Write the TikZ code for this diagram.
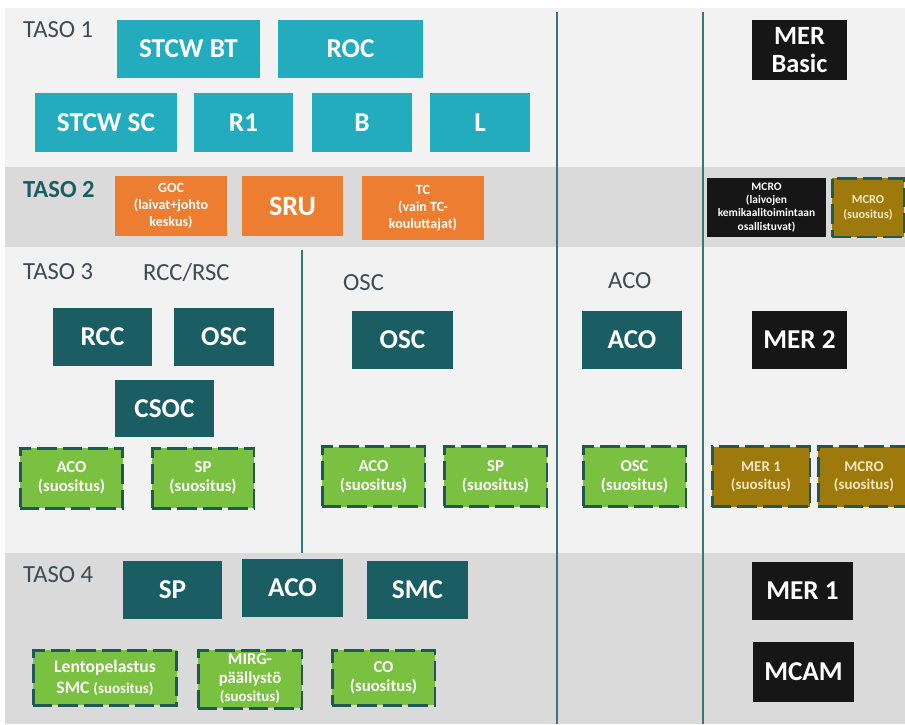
\documentclass[tikz,border=0pt]{standalone}
\usepackage{fontspec}
\setmainfont{Carlito}
\definecolor{tasocyan}{RGB}{35,172,190}
\definecolor{tasoorange}{RGB}{237,125,49}
\definecolor{tasoteal}{RGB}{26,93,99}
\definecolor{tasoblack}{RGB}{22,22,22}
\definecolor{tasogreen}{RGB}{122,193,66}
\definecolor{tasobrown}{RGB}{158,122,12}
\definecolor{tasodash}{RGB}{32,88,84}
\definecolor{tasoline}{RGB}{55,118,128}
\definecolor{tasolight}{RGB}{242,242,242}
\definecolor{tasomid}{RGB}{218,218,218}
\definecolor{tasogray}{RGB}{62,76,82}
\definecolor{tasocream}{RGB}{245,232,190}

\begin{document}
\begin{tikzpicture}[x = 0.02cm, y = -0.02cm,
  box/.style = {rectangle, inner sep = 1pt, align = center, text = white,
    font = \bfseries\fontsize{15.5}{17}\selectfont, minimum height = 1.16cm},
  cyanbox/.style = {box, fill = tasocyan},
  orangebox/.style = {box, fill = tasoorange, font = \bfseries\fontsize{8}{9.5}\selectfont},
  tealbox/.style = {box, fill = tasoteal},
  blackbox/.style = {box, fill = tasoblack},
  tipbox/.style = {box, fill = tasogreen, draw = tasodash, line width = 1.7pt,
    dash pattern = on 11pt off 3.5pt, font = \bfseries\fontsize{9.5}{11}\selectfont,
    minimum height = 1.2cm},
  brownbox/.style = {tipbox, fill = tasobrown, text = tasocream},
  level/.style = {anchor = west, text = tasogray, font = \fontsize{14}{15}\selectfont},
  sepline/.style = {draw = tasoline, line width = 1.2pt}]
\useasboundingbox (0, 0) rectangle (905, 724);
\fill[white] (0, 0) rectangle (905, 724);
\fill[tasolight] (5, 8) rectangle (905, 167);
\fill[tasomid] (5, 167) rectangle (905, 247);
\fill[tasolight] (5, 247) rectangle (905, 553);
\fill[tasomid] (5, 553) rectangle (905, 724);

\node[level] (taso1) at (17, 30) {TASO 1};
\node[level, text = tasoteal, font = \bfseries\fontsize{14}{15}\selectfont] (taso2) at (17, 190) {TASO 2};
\node[level] (taso3) at (17, 272) {TASO 3};
\node[level] (rccrsc) at (137, 272) {RCC/RSC};
\node[level] (oschead) at (337, 283) {OSC};
\node[level] (acohead) at (602, 281) {ACO};
\node[level] (taso4) at (17, 575) {TASO 4};

\node[cyanbox, minimum width = 2.86cm] (stcwbt) at (188.5, 49) {STCW BT};
\node[cyanbox, minimum width = 2.9cm] (roc) at (350.5, 49) {ROC};
\node[cyanbox, minimum width = 2.84cm, minimum height = 1.18cm] (stcwsc) at (106, 122.5) {STCW SC};
\node[cyanbox, minimum width = 1.98cm, minimum height = 1.18cm] (r1) at (243.5, 122.5) {R1};
\node[cyanbox, minimum width = 2cm, minimum height = 1.18cm] (b) at (362, 122.5) {B};
\node[cyanbox, minimum width = 2cm, minimum height = 1.18cm] (l) at (480, 122.5) {L};
\node[blackbox, minimum width = 1.9cm, minimum height = 1.2cm,
  font = \bfseries\fontsize{15}{15.5}\selectfont] (merbasic) at (799.5, 50) {MER\\Basic};

\node[orangebox, minimum width = 2.24cm, minimum height = 1.2cm] (goc) at (171, 206)
  {GOC\\(laivat+johto\\keskus)};
\node[orangebox, minimum width = 2.02cm, minimum height = 1.2cm,
  font = \bfseries\fontsize{16}{17}\selectfont] (sru) at (292.5, 206) {SRU};
\node[orangebox, minimum width = 2.44cm, minimum height = 1.28cm] (tc) at (423, 208)
  {TC\\(vain TC-\\kouluttajat)};
\node[blackbox, minimum width = 2.38cm, minimum height = 1.18cm,
  font = \bfseries\fontsize{6.5}{7.5}\selectfont] (mcro) at (766.5, 207.5)
  {MCRO\\(laivojen\\kemikaalitoimintaan\\osallistuvat)};
\node[brownbox, minimum width = 1.44cm, minimum height = 1.18cm,
  font = \bfseries\fontsize{7}{8.5}\selectfont] (mcrotip) at (868, 207.5) {MCRO\\(suositus)};

\node[tealbox, minimum width = 1.98cm] (rcc) at (102.5, 337) {RCC};
\node[tealbox, minimum width = 2cm] (osca) at (224, 337) {OSC};
\node[tealbox, minimum width = 1.98cm, minimum height = 1.14cm] (csoc) at (164.5, 408.5) {CSOC};
\node[tealbox, minimum width = 2.02cm] (oscb) at (402.5, 340) {OSC};
\node[tealbox, minimum width = 2cm] (acoa) at (632, 340) {ACO};
\node[blackbox, minimum width = 1.9cm] (mer2) at (799.5, 340) {MER 2};

\node[tipbox, minimum width = 2.06cm] (acotipa) at (71.5, 478) {ACO\\(suositus)};
\node[tipbox, minimum width = 2.04cm] (sptipa) at (203, 478) {SP\\(suositus)};
\node[tipbox, minimum width = 2.06cm] (acotipb) at (373.5, 476.5) {ACO\\(suositus)};
\node[tipbox, minimum width = 2.06cm] (sptipb) at (495.5, 476.5) {SP\\(suositus)};
\node[tipbox, minimum width = 2.06cm] (osctip) at (634.5, 476.5) {OSC\\(suositus)};
\node[brownbox, minimum width = 1.96cm, font = \bfseries\fontsize{8.5}{10}\selectfont]
  (mer1tip) at (761, 476.5) {MER 1\\(suositus)};
\node[brownbox, minimum width = 1.84cm, font = \bfseries\fontsize{8.5}{10}\selectfont]
  (mcrotipb) at (864, 476.5) {MCRO\\(suositus)};

\node[tealbox, minimum width = 1.98cm] (sp) at (172.5, 590) {SP};
\node[tealbox, minimum width = 2.02cm] (acob) at (292.5, 588) {ACO};
\node[tealbox, minimum width = 2.02cm] (smc) at (417.5, 590) {SMC};
\node[blackbox, minimum width = 2.02cm] (mer1) at (802.5, 591) {MER 1};
\node[blackbox, minimum width = 2.02cm, minimum height = 1.2cm] (mcam) at (803.5, 672) {MCAM};

\node[tipbox, minimum width = 2.88cm, minimum height = 1.1cm,
  font = \bfseries\fontsize{10}{12}\selectfont] (lento) at (105, 677.5)
  {Lentopelastus\\SMC {\fontsize{8.5}{10}\selectfont(suositus)}};
\node[tipbox, minimum width = 2.08cm, minimum height = 1.16cm,
  font = \bfseries\fontsize{9.5}{10.5}\selectfont] (mirg) at (250, 679)
  {MIRG-\\päällystö\\{\fontsize{8.5}{10}\selectfont(suositus)}};
\node[tipbox, minimum width = 2.06cm, minimum height = 1.1cm] (co) at (383.5, 677.5) {CO\\(suositus)};

\draw[sepline] (557, 12) -- (557, 724);
\draw[sepline, line width = 1.6pt] (703, 12) -- (703, 724);
\draw[sepline] (302, 250) -- (302, 553);
\end{tikzpicture}
\end{document}
